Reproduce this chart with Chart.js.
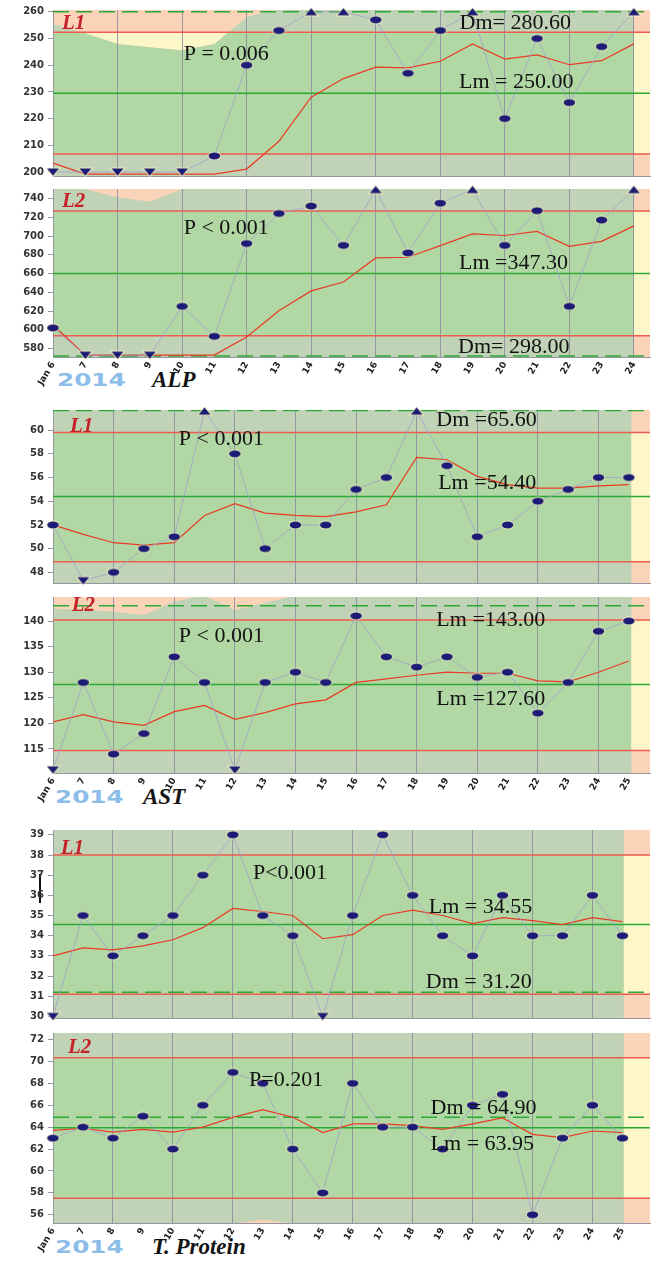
<!DOCTYPE html>
<html>
<head>
<meta charset="utf-8">
<title>Daily QC trends, January 2014</title>
<script src="https://cdn.jsdelivr.net/npm/chart.js@4.4.1/dist/chart.umd.min.js"></script>
<style>
  html, body { margin: 0; padding: 0; background: #ffffff; }
  body { position: relative; width: 656px; height: 1263px; overflow: hidden; }
  canvas { position: absolute; left: 0; }
  .year { position: absolute; font: bold 17px "DejaVu Sans", sans-serif; color: #8cbde8; line-height: 17px;
          transform-origin: 0 50%; transform: scaleX(1.45); white-space: nowrap; }
  .analyte { position: absolute; font: italic bold 23px "Liberation Serif", serif; color: #141414;
             line-height: 23px; white-space: nowrap; }
  .stub { position: absolute; left: 39px; top: 874px; width: 2px; height: 29px; background: #111; }
</style>
</head>
<body>
<div class="year" style="left:57px;top:372px">2014</div>
<div class="analyte" style="left:152px;top:368px">ALP</div>
<div class="year" style="left:55px;top:789px">2014</div>
<div class="analyte" style="left:143px;top:785px">AST</div>
<div class="year" style="left:55px;top:1239px">2014</div>
<div class="analyte" style="left:152px;top:1235px">T. Protein</div>
<div class="stub"></div>
<script>
// ---- day labels (January 2014) ----
const alpDays = ['Jan 6', '7', '8', '9', '10', '11', '12', '13', '14', '15', '16', '17', '18', '19', '20', '21', '22', '23', '24'];
const runDays = ['Jan 6', '7', '8', '9', '10', '11', '12', '13', '14', '15', '16', '17', '18', '19', '20', '21', '22', '23', '24', '25'];

// ---- ALP, level 1 ----
const alpL1Values = [200, 200, 200, 200, 200, 206, 240, 253, 260, 260, 257, 237, 253, 260, 220, 250, 226, 247, 260];
const alpL1Mean   = [203.3, 199.2, 199.2, 199.2, 199.2, 199.2, 201.1, 211.5, 228, 235, 239.3, 239, 241.5, 248, 242.3, 243.9, 240.2, 241.7, 248];
const alpL1Limits = [252.4, 206.7, 229.5, 260];          // upper, lower, lab mean, target
const alpL1Ticks  = [200, 205, 210, 215, 220, 225, 230, 235, 240, 245, 250, 255, 260];
const alpL1Envelope = [255.5, 252, 248, 246.7, 245.6, 248, 258.2, 261, 261];
const alpL1Notes  = ['L1', 'P = 0.006', 'Dm= 280.60', 'Lm = 250.00'];

// ---- ALP, level 2 ----
const alpL2Values = [602, 573, 573, 573, 625, 593, 692, 724, 732, 690, 749.5, 682, 735, 749.5, 690, 727, 625, 717, 749.5];
const alpL2Mean   = [605.3, 573, 573, 573, 573, 573, 592.3, 620.4, 641.5, 651, 676.7, 677.4, 689.8, 702.4, 700.6, 704.9, 689, 694.3, 710.9];
const alpL2Limits = [726.7, 593.7, 660.2, 572.2];
const alpL2Ticks  = [580, 600, 620, 640, 660, 680, 700, 720, 740];
const alpL2Envelope = [751, 750, 741.5, 736.5, 750, 752];
const alpL2Notes  = ['L2', 'P < 0.001', 'Lm =347.30', 'Dm= 298.00'];

// ---- AST, level 1 ----
const astL1Values = [52, 47.3, 48, 50, 51, 61.6, 58, 50, 52, 52, 55, 56, 61.6, 57, 51, 52, 54, 55, 56, 56];
const astL1Mean   = [52, 51.2, 50.5, 50.3, 50.5, 52.8, 53.8, 53, 52.8, 52.7, 53.1, 53.7, 57.7, 57.5, 56.1, 55.4, 55.1, 55.1, 55.3, 55.4];
const astL1Limits = [59.8, 48.9, 54.4, 61.65];
const astL1Ticks  = [48, 50, 52, 54, 56, 58, 60];
const astL1Notes  = ['L1', 'P < 0.001', 'Dm =65.60', 'Lm =54.40'];

// ---- AST, level 2 ----
const astL2Values = [110.9, 128, 114, 118, 133, 128, 110.9, 128, 130, 128, 141, 133, 131, 133, 129, 130, 122, 128, 138, 140];
const astL2Mean   = [120.3, 121.7, 120.3, 119.6, 122.3, 123.5, 120.8, 122.1, 123.8, 124.6, 128, 128.7, 129.4, 130, 129.8, 129.8, 128.3, 128.1, 130, 132.2];
const astL2Limits = [140.2, 114.7, 127.6, 143];
const astL2Ticks  = [115, 120, 125, 130, 135, 140];
const astL2Envelope = [142.4, 142.2, 141.8, 141.2, 143.8, 145, 142.1, 143.6, 145, 145];
const astL2Notes  = ['L2', 'P < 0.001', 'Lm =143.00', 'Lm =127.60'];

// ---- Total protein, level 1 ----
const tpL1Values = [30, 35, 33, 34, 35, 37, 39, 35, 34, 30, 35, 39, 36, 34, 33, 36, 34, 34, 36, 34];
const tpL1Mean   = [33, 33.4, 33.3, 33.5, 33.8, 34.4, 35.35, 35.2, 35, 33.85, 34.05, 35, 35.27, 35, 34.6, 34.9, 34.75, 34.55, 34.9, 34.7];
const tpL1Limits = [38, 31.1, 34.55, 31.2];
const tpL1Ticks  = [30, 31, 32, 33, 34, 35, 36, 37, 38, 39];
const tpL1Notes  = ['L1', 'P<0.001', 'Lm = 34.55', 'Dm = 31.20'];

// ---- Total protein, level 2 ----
const tpL2Values = [63, 64, 63, 65, 62, 66, 69, 68, 62, 58, 68, 64, 64, 62, 66, 67, 56, 63, 66, 63];
const tpL2Mean   = [63.7, 63.9, 63.55, 63.8, 63.55, 64, 64.9, 65.6, 64.9, 63.5, 64.3, 64.3, 64.15, 63.8, 64.3, 64.85, 63.35, 63.05, 63.65, 63.5];
const tpL2Limits = [70.35, 57.5, 63.95, 64.9];
const tpL2Ticks  = [56, 58, 60, 62, 64, 66, 68, 70, 72];
const tpL2Floor  = [55.0, 55.2, 55.55, 55.2, 55.0];     // days 11..15
const tpL2Notes  = ['L2', 'P=0.201', 'Dm = 64.90', 'Lm = 63.95'];

// ---- styling ----
const FIRST_DAY = 6;
const OUTER  = 'rgb(193,211,183)';
const BAND   = 'rgb(177,216,164)';
const PEACH  = 'rgb(251,211,184)';
const YELLOW = 'rgb(253,246,200)';
const GRID   = 'rgba(140,140,160,0.85)';
const RED    = 'rgb(236,92,80)';
const GREEN  = 'rgb(44,168,52)';
const TREND  = 'rgb(232,58,36)';
const LINK   = 'rgba(160,160,200,0.8)';
const NAVY   = 'rgb(28,28,118)';
const TAG    = 'rgb(196,34,40)';
const INK    = '#121212';
const CLEAR  = 'rgba(0,0,0,0)';

Chart.defaults.font.family = '"DejaVu Sans", sans-serif';

function pts(arr, from) { return arr.map((v, i) => ({ x: from + i, y: v })); }
function span(y, x0, x1) { return [{ x: x0, y: y }, { x: x1, y: y }]; }

function makeMark(kind) {
  const c = document.createElement('canvas');
  c.width = 15; c.height = 10;
  const g = c.getContext('2d');
  g.beginPath();
  if (kind === 'dot') g.ellipse(7.5, 5, 5.8, 3.4, 0, 0, Math.PI * 2);
  else if (kind === 'up') { g.moveTo(7.5, 1.2); g.lineTo(13.4, 8.6); g.lineTo(1.6, 8.6); g.closePath(); }
  else { g.moveTo(1.6, 1.4); g.lineTo(13.4, 1.4); g.lineTo(7.5, 8.8); g.closePath(); }
  g.lineWidth = 2; g.strokeStyle = 'rgba(255,248,190,0.7)'; g.stroke();
  g.fillStyle = NAVY; g.fill();
  return c;
}
const MARKS = { dot: makeMark('dot'), up: makeMark('up'), down: makeMark('down') };

const notesPlugin = {
  id: 'notes',
  afterDatasetsDraw(chart, args, opts) {
    const { ctx } = chart;
    const x = chart.scales.x, y = chart.scales.y;
    ctx.save();
    ctx.textBaseline = 'middle';
    ctx.textAlign = 'left';
    (opts.items || []).forEach(n => {
      ctx.font = n.tag ? 'italic bold 21px "Liberation Serif", serif' : '22px "Liberation Serif", serif';
      ctx.fillStyle = n.tag ? TAG : INK;
      ctx.fillText(n.text, x.getPixelForValue(n.x), y.getPixelForValue(n.y));
    });
    ctx.restore();
  }
};

const panels = [
  { top: 8, bottom: 178, showDays: false, days: alpDays, values: alpL1Values, mean: alpL1Mean, limits: alpL1Limits,
    ticks: alpL1Ticks, yMin: 198.5, yMax: 260.7, xMax: 24.5, stripFrom: 24, hiMark: 260, loMark: 200,
    envTop: alpL1Envelope, envYellow: true, notes: alpL1Notes,
    notePos: [[6.28, 255.6], [10.05, 244.3], [18.6, 255.6], [18.58, 233.7]] },
  { top: 187, bottom: 357, showDays: true, days: alpDays, values: alpL2Values, mean: alpL2Mean, limits: alpL2Limits,
    ticks: alpL2Ticks, yMin: 571, yMax: 750.2, xMax: 24.5, stripFrom: 24, hiMark: 749, loMark: 573,
    envTop: alpL2Envelope, notes: alpL2Notes,
    notePos: [[6.28, 736.5], [10.05, 708], [18.58, 671.1], [18.55, 581.4]] },
  { top: 408, bottom: 585, showDays: false, days: runDays, values: astL1Values, mean: astL1Mean, limits: astL1Limits,
    ticks: astL1Ticks, yMin: 47.1, yMax: 61.7, xMax: 25.7, stripFrom: 25.08, hiMark: 61.5, loMark: 47.5,
    notes: astL1Notes,
    notePos: [[6.56, 60.27], [10.15, 59.2], [18.65, 60.85], [18.71, 55.5]] },
  { top: 595, bottom: 773, showDays: true, days: runDays, values: astL2Values, mean: astL2Mean, limits: astL2Limits,
    ticks: astL2Ticks, yMin: 110.3, yMax: 144.7, xMax: 25.7, stripFrom: 25.08, loMark: 111,
    envTop: astL2Envelope, notes: astL2Notes,
    notePos: [[6.62, 143.1], [10.15, 137.0], [18.65, 140.25], [18.65, 124.8]] },
  { top: 828, bottom: 1020, showDays: false, days: runDays, values: tpL1Values, mean: tpL1Mean, limits: tpL1Limits,
    ticks: tpL1Ticks, yMin: 29.92, yMax: 39.24, xMax: 25.92, stripFrom: 25.04, loMark: 30,
    notes: tpL1Notes,
    notePos: [[6.26, 38.33], [12.67, 37.12], [18.54, 35.41], [18.44, 31.71]] },
  { top: 1031, bottom: 1223, showDays: true, days: runDays, values: tpL2Values, mean: tpL2Mean, limits: tpL2Limits,
    ticks: tpL2Ticks, yMin: 55.25, yMax: 72.6, xMax: 25.92, stripFrom: 25.04,
    envBottom: tpL2Floor, envBottomFrom: 11, notes: tpL2Notes,
    notePos: [[6.5, 71.3], [12.54, 68.33], [18.6, 65.7], [18.6, 62.47]] }
];

function markFor(c, p) {
  const v = c.raw ? c.raw.y : null;
  if (v == null) return MARKS.dot;
  if (p.hiMark != null && v >= p.hiMark) return MARKS.up;
  if (p.loMark != null && v <= p.loMark) return MARKS.down;
  return MARKS.dot;
}

function buildPanel(p) {
  const canvas = document.createElement('canvas');
  const canvasTop = p.top - 8;
  const padBottom = p.showDays ? 4 : 8;
  const axisH = p.showDays ? 34 : 0;     // room for the slanted day labels
  const h = p.bottom + axisH + padBottom - canvasTop;
  canvas.width = 656; canvas.height = h;
  canvas.style.top = canvasTop + 'px';
  canvas.style.width = '656px'; canvas.style.height = h + 'px';
  document.body.appendChild(canvas);

  const [upper, lower, lm, dm] = p.limits;
  const x1 = p.xMax;
  const ds = [];
  const add = d => {
    ds.push(Object.assign({ borderWidth: 0, borderColor: CLEAR, pointRadius: 0, fill: false, tension: 0 }, d));
    return ds.length - 1;
  };

  // zone shading
  add({ data: span(p.yMax, FIRST_DAY, x1), fill: 'start', backgroundColor: OUTER, order: 100 });
  const bandLow = add({ data: span(lower, FIRST_DAY, x1), order: 90 });
  add({ data: span(upper, FIRST_DAY, x1), fill: { target: bandLow }, backgroundColor: BAND, order: 90 });
  add({ data: span(p.yMax, p.stripFrom, x1), fill: 'start', backgroundColor: PEACH, order: 80 });
  const stripLow = add({ data: span(lower, p.stripFrom, x1), order: 70 });
  add({ data: span(upper, p.stripFrom, x1), fill: { target: stripLow }, backgroundColor: YELLOW, order: 70 });
  if (p.envTop) {
    const env = add({ data: pts(p.envTop, FIRST_DAY), fill: 'end', backgroundColor: PEACH, order: 60 });
    if (p.envYellow) {
      add({ data: span(upper, FIRST_DAY, FIRST_DAY + p.envTop.length - 1),
            fill: { target: env, above: YELLOW, below: CLEAR }, backgroundColor: YELLOW, order: 55 });
    }
  }
  if (p.envBottom) {
    add({ data: pts(p.envBottom, p.envBottomFrom), fill: 'start', backgroundColor: PEACH, order: 60 });
  }

  // control limits and means
  add({ data: span(upper, FIRST_DAY, x1), borderColor: RED, borderWidth: 1.5, order: 20 });
  add({ data: span(lower, FIRST_DAY, x1), borderColor: RED, borderWidth: 1.5, order: 20 });
  add({ data: span(lm, FIRST_DAY, x1), borderColor: GREEN, borderWidth: 1.5, order: 20 });
  add({ data: span(dm, FIRST_DAY, x1), borderColor: GREEN, borderWidth: 1.5, borderDash: [16, 7], order: 20 });

  // running mean and daily results
  add({ data: pts(p.mean, FIRST_DAY), borderColor: TREND, borderWidth: 1.2, order: 10 });
  add({ data: pts(p.values, FIRST_DAY), borderColor: LINK, borderWidth: 1, pointRadius: 5,
        pointStyle: c => markFor(c, p), clip: 8, order: 5 });

  const items = p.notes.map((t, i) => ({ text: t, x: p.notePos[i][0], y: p.notePos[i][1], tag: i === 0 }));
  const lastDay = FIRST_DAY + p.values.length - 1;

  new Chart(canvas, {
    type: 'line',
    data: { datasets: ds },
    options: {
      responsive: false,
      animation: false,
      events: [],
      layout: { padding: { top: 8, bottom: padBottom, left: 0, right: 0 } },
      plugins: {
        legend: { display: false },
        tooltip: { enabled: false },
        filler: { drawTime: 'beforeDraw' },
        notes: { items: items }
      },
      scales: {
        x: {
          type: 'linear', min: FIRST_DAY, max: p.xMax,
          afterBuildTicks: s => {
            const t = [];
            for (let d = FIRST_DAY; d <= lastDay; d++) t.push({ value: d });
            s.ticks = t;
          },
          afterFit: s => { s.height = axisH; },
          ticks: {
            display: p.showDays, autoSkip: false, minRotation: 60, maxRotation: 60, padding: 3,
            color: '#1a1a1a', font: { size: 9, weight: 'bold' },
            callback: v => p.days[Math.round(v) - FIRST_DAY]
          },
          grid: {
            drawTicks: false, lineWidth: 1,
            color: c => (c.tick && Math.round(c.tick.value) % 2 === 0) ? GRID : CLEAR
          },
          border: { color: 'rgb(150,150,160)', width: 1 }
        },
        y: {
          min: p.yMin, max: p.yMax,
          afterBuildTicks: s => { s.ticks = p.ticks.map(v => ({ value: v })); },
          afterFit: s => { s.width = 53; },
          ticks: { color: '#333', padding: 4, font: { size: 10, weight: 'bold' }, callback: v => String(v) },
          grid: { drawOnChartArea: false, drawTicks: true, tickLength: 5, color: 'rgb(150,150,160)' },
          border: { color: 'rgb(150,150,160)', width: 1 }
        }
      }
    },
    plugins: [notesPlugin]
  });
}

panels.forEach(buildPanel);
</script>
</body>
</html>
